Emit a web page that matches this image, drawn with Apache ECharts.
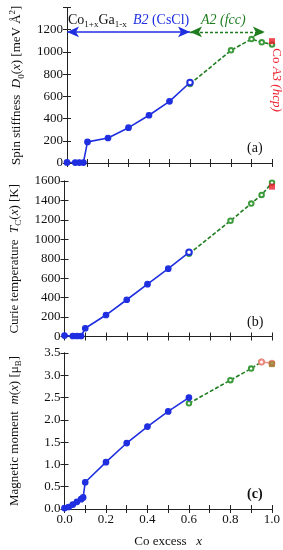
<!DOCTYPE html>
<html><head><meta charset="utf-8">
<script src="https://cdn.jsdelivr.net/npm/echarts@6/dist/echarts.min.js"></script>
<style>html,body{margin:0;padding:0;background:#fff}#c{width:283px;height:550px}</style>
</head><body><div id="c"></div>
<script>
// ---- data ----
// Panel (a) spin stiffness D0(x) [meV A^2]
const aBlueX = [0, 0.04, 0.06, 0.08, 0.1, 0.2, 0.3, 0.4, 0.5, 0.6];
const aBlueY = [5, 4, 4, 4, 190, 225, 318, 430, 555, 725];
const aGreenX = [0.6, 0.8, 0.9, 0.95, 1.0];
const aGreenY = [711, 1014, 1116, 1087, 1068];
const aRedX = [1.0];
const aRedY = [1097];
// Panel (b) Curie temperature Tc(x) [K]
const bBlueX = [0, 0.04, 0.06, 0.08, 0.1, 0.2, 0.3, 0.4, 0.5, 0.6];
const bBlueY = [10, 5, 5, 5, 85, 221, 378, 538, 698, 866];
const bGreenX = [0.6, 0.8, 0.9, 0.95, 1.0];
const bGreenY = [851, 1191, 1368, 1457, 1583];
const bRedX = [1.0];
const bRedY = [1542];
// Panel (c) magnetic moment m(x) [muB]
const cBlueX = [0, 0.02, 0.04, 0.06, 0.08, 0.09, 0.1, 0.2, 0.3, 0.4, 0.5, 0.6];
const cBlueY = [0.02, 0.045, 0.10, 0.16, 0.22, 0.26, 0.60, 1.05, 1.48, 1.85, 2.19, 2.50];
const cGreenX = [0.6, 0.8, 0.9, 0.95];
const cGreenY = [2.37, 2.89, 3.15, 3.30];
const cPinkX = [0.95, 1.0];
const cPinkY = [3.30, 3.27];
const cRedX = [1.0];
const cRedY = [3.25];
// tick labels / ranges
const xTicks = [0, 0.2, 0.4, 0.6, 0.8, 1.0];
const aTicks = [0, 200, 400, 600, 800, 1000, 1200];
const bTicks = [0, 200, 400, 600, 800, 1000, 1200, 1400, 1600];
const cTicks = [0.0, 0.5, 1.0, 1.5, 2.0, 2.5, 3.0, 3.5];
// annotation arrows (panel a)
const arrowBlue = [[0, 1180], [0.6, 1180]];
const arrowGreen = [[0.6, 1180], [0.965, 1180]];

const zip = (xs, ys) => xs.map((x, i) => [x, ys[i]]);
const FONT = '"Liberation Serif", "DejaVu Serif", serif';
const BLUE = '#1f2fe0', GREEN = '#1f7d1f', GREEN2 = '#3c9c3c', RED = '#ee1c2a';

const grids = [
  {left: 58, right: 11, top: 7.5, height: 155.5},
  {left: 58, right: 11, top: 181, height: 155.5},
  {left: 58, right: 11, top: 353, height: 156}
];
const yr = [
  {max: 1400, ticks: aTicks, interval: 200, dec: 0},
  {max: 1600, ticks: bTicks, interval: 200, dec: 0},
  {max: 3.5, ticks: cTicks, interval: 0.5, dec: 1}
];
const names = [
  '{n|Spin stiffness  }{i|D}{s|0}{n|(}{i|x}{n|) [meV Å}{p|2}{n|]}',
  '{n|Curie temperature  }{i|T}{s|C}{n|(}{i|x}{n|) [K]}',
  '{n|Magnetic moment  }{i|m}{n|(}{i|x}{n|) [μ}{s|B}{n|]}'
];
const rich = {
  n: {fontFamily: FONT, fontSize: 13, color: '#111', lineHeight: 18},
  i: {fontFamily: FONT, fontSize: 13, fontStyle: 'italic', color: '#111', lineHeight: 18},
  s: {fontFamily: FONT, fontSize: 9, color: '#111', verticalAlign: 'bottom', lineHeight: 18, padding: [5, 0, 0, 0]},
  p: {fontFamily: FONT, fontSize: 9, color: '#111', verticalAlign: 'top', lineHeight: 18, padding: [0, 0, 6, 0]}
};
const axLine = {show: true, lineStyle: {color: '#222', width: 1}};
const tick = {show: true, inside: true, length: 4, lineStyle: {color: '#222'}};

const xAxis = [], yAxis = [];
for (let g = 0; g < 3; g++) {
  xAxis.push({
    gridIndex: g, type: 'value', min: 0, max: 1, interval: 0.1, position: 'bottom',
    axisLine: axLine, axisTick: tick, splitLine: {show: false},
    name: g === 2 ? '{n|Co excess   }{i|x}' : '', nameLocation: 'middle', nameGap: 24,
    nameTextStyle: {rich},
    axisLabel: {
      show: g === 2, color: '#111', fontFamily: FONT, fontSize: 13, margin: 4,
      formatter: v => xTicks.some(t => Math.abs(t - v) < 1e-6) ? v.toFixed(1) : ''
    }
  });
  xAxis.push({
    gridIndex: g, type: 'value', min: 0, max: 1, interval: 0.1, position: 'top',
    axisLine: axLine, axisTick: tick, splitLine: {show: false}, axisLabel: {show: false}
  });
  const r = yr[g];
  yAxis.push({
    gridIndex: g, type: 'value', min: 0, max: r.max, interval: r.interval, position: 'left',
    axisLine: axLine, axisTick: tick, splitLine: {show: false},
    name: names[g], nameLocation: 'middle', nameRotate: 90, nameGap: 41,
    nameTextStyle: {rich},
    axisLabel: {
      color: '#111', fontFamily: FONT, fontSize: 13, margin: 4,
      formatter: v => r.ticks.some(t => Math.abs(t - v) < 1e-6) ? v.toFixed(r.dec) : ''
    }
  });
  yAxis.push({
    gridIndex: g, type: 'value', min: 0, max: r.max, interval: r.interval, position: 'right',
    axisLine: axLine, axisTick: tick, splitLine: {show: false}, axisLabel: {show: false}
  });
}

function blue(g, x, y, openLast) {
  const n = x.length;
  return {
    type: 'line', xAxisIndex: g * 2, yAxisIndex: g * 2, data: zip(x, y),
    lineStyle: {color: BLUE, width: 1.6}, itemStyle: {color: BLUE, borderColor: BLUE, borderWidth: 1.2},
    symbol: (v, p) => (openLast && p.dataIndex === n - 1) ? 'emptyCircle' : 'circle',
    symbolSize: 5.5, z: 3, animation: false
  };
}
function green(g, x, y) {
  return {
    type: 'line', xAxisIndex: g * 2, yAxisIndex: g * 2, data: zip(x, y),
    lineStyle: {color: GREEN, width: 1.6, type: [4, 2]},
    itemStyle: {color: GREEN2, borderColor: GREEN2, borderWidth: 1},
    symbol: 'emptyCircle', symbolSize: 4.5, z: 2, animation: false
  };
}
function red(g, x, y, col) {
  return {
    type: 'scatter', xAxisIndex: g * 2, yAxisIndex: g * 2, data: zip(x, y),
    symbol: 'rect', symbolSize: 6, itemStyle: {color: col}, z: 4, animation: false
  };
}

const series = [
  blue(0, aBlueX, aBlueY, true), green(0, aGreenX, aGreenY), red(0, aRedX, aRedY, RED),
  blue(1, bBlueX, bBlueY, true), green(1, bGreenX, bGreenY), red(1, bRedX, bRedY, RED),
  blue(2, cBlueX, cBlueY, false), green(2, cGreenX, cGreenY),
  {
    type: 'line', xAxisIndex: 4, yAxisIndex: 4, data: zip(cPinkX, cPinkY),
    lineStyle: {color: '#f08a80', width: 1.4}, itemStyle: {color: '#f08a80'},
    symbol: 'emptyCircle', symbolSize: 5, z: 2, animation: false
  },
  red(2, cRedX, cRedY, '#9a7a2a'),
  // annotation arrows in panel (a)
  {
    type: 'line', xAxisIndex: 0, yAxisIndex: 0, data: [], animation: false,
    markLine: {
      silent: true, symbol: ['arrow', 'arrow'], symbolSize: [8, 12], label: {show: false},
      data: [
        [{coord: arrowBlue[0], lineStyle: {color: BLUE, width: 1.6, type: 'solid'}}, {coord: arrowBlue[1]}],
        [{coord: arrowGreen[0], lineStyle: {color: GREEN, width: 1.4, type: [3, 2]}}, {coord: arrowGreen[1]}]
      ]
    }
  }
];

const chart = echarts.init(document.getElementById('c'), null, {renderer: 'canvas'});
chart.setOption({
  backgroundColor: '#fff', animation: false,
  grid: grids, xAxis, yAxis, series,
  graphic: [
    {type: 'text', left: 68, top: 13, style: {
      text: '{n|Co}{s|1+x}{n|Ga}{s|1-x}', rich: {
        n: {fontFamily: FONT, fontSize: 14, fill: '#111', lineHeight: 18},
        s: {fontFamily: FONT, fontSize: 9, fill: '#111', verticalAlign: 'bottom', lineHeight: 18, padding: [6, 0, 0, 0]}
      }}},
    {type: 'text', left: 133, top: 13, style: {
      text: '{i|B2} {n|(CsCl)}', rich: {
        n: {fontFamily: FONT, fontSize: 14, fill: BLUE, lineHeight: 18},
        i: {fontFamily: FONT, fontSize: 14, fill: BLUE, fontStyle: 'italic', lineHeight: 18}
      }}},
    {type: 'text', left: 201, top: 13, style: {
      text: '{i|A2 (fcc)}', rich: {
        i: {fontFamily: FONT, fontSize: 14, fill: GREEN, fontStyle: 'italic', lineHeight: 18}
      }}},
    {type: 'text', x: 276, y: 80, rotation: -Math.PI / 2, style: {
      text: '{n|Co }{i|A3 (hcp)}', align: 'center', verticalAlign: 'middle', rich: {
        n: {fontFamily: FONT, fontSize: 13, fill: RED},
        i: {fontFamily: FONT, fontSize: 13, fill: RED, fontStyle: 'italic'}
      }}},
    {type: 'text', left: 247, top: 141, style: {text: '(a)', font: '14px ' + FONT, fill: '#111'}},
    {type: 'text', left: 247, top: 315, style: {text: '(b)', font: '14px ' + FONT, fill: '#111'}},
    {type: 'text', left: 247, top: 487, style: {text: '(c)', font: 'bold 14px ' + FONT, fill: '#111'}}
  ]
});
</script></body></html>
